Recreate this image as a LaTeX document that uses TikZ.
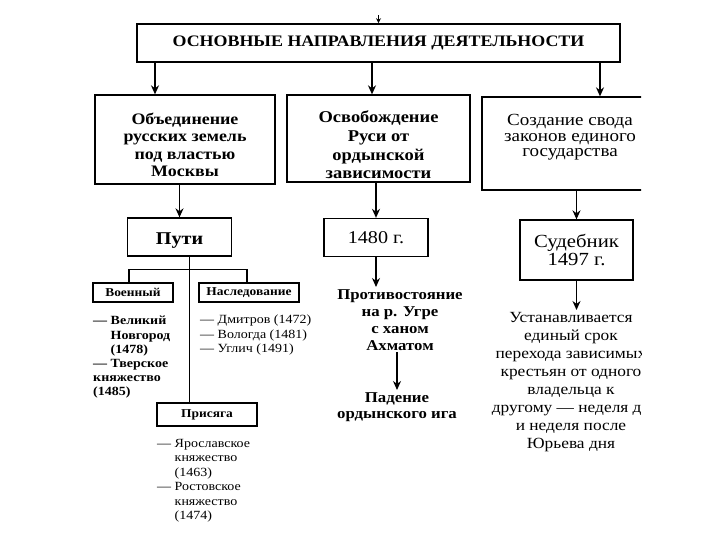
\documentclass[tikz,border=0pt]{standalone}
\usepackage{fontspec}
\setmainfont{Liberation Serif}[FakeStretch=1.12]
\usetikzlibrary{arrows.meta}

\tikzset{
  box/.style={draw, line width=1.3pt, inner sep=0pt, align=center},
  lab/.style={draw, line width=1.1pt, inner sep=0pt, font=\bfseries\fontsize{12}{14}\selectfont},
  arr/.style={line width=1.3pt, -{Stealth[length=9pt,width=8pt]}},
  line/.style={line width=1.1pt},
  list/.style={anchor=north west, align=left, inner sep=0pt, font=\fontsize{12.5}{14.5}\selectfont},
}

\begin{document}
\begin{tikzpicture}[x=1pt, y=-1pt]
    \useasboundingbox (0,0) rectangle (720,540);
    \clip (0,0) rectangle (641,540);

    % Heading
    \node[box, line width=1.6pt, minimum width=483pt, minimum height=38pt,
          font=\bfseries\fontsize{16}{18}\selectfont] (head) at (378.5,43) {ОСНОВНЫЕ НАПРАВЛЕНИЯ ДЕЯТЕЛЬНОСТИ};
    \draw[line width=0.8pt, -{Stealth[length=5pt,width=5pt]}] ([yshift=8pt]head.north) -- (head.north);

    % Three directions
    \node[box, minimum width=180pt, minimum height=89pt, font=\bfseries\fontsize{16}{17.5}\selectfont]
        (unite) at (185,139.5) {\rule{0pt}{22pt}Объединение\\русских земель\\под властью\\Москвы};
    \node[box, minimum width=183pt, minimum height=87pt, font=\bfseries\fontsize{16.5}{18.7}\selectfont]
        (free) at (378.5,138.5) {\rule{0pt}{25pt}Освобождение\\Руси от\\ордынской\\зависимости};
    \node[box, minimum width=176pt, minimum height=93pt, font=\fontsize{17}{15.5}\selectfont]
        (code) at (570,143.5) {Создание свода\\законов единого\\государства\\ \mbox{}};

    \draw[arr] ([xshift=-30pt]unite.north |- head.south) -- ([xshift=-30pt]unite.north);
    \draw[arr] ([xshift=-6.5pt]free.north |- head.south) -- ([xshift=-6.5pt]free.north);
    \draw[arr] ([xshift=30pt]code.north |- head.south) -- ([xshift=30pt]code.north);

    % Second row
    \node[box, minimum width=104pt, minimum height=38pt, font=\bfseries\fontsize{18}{20}\selectfont]
        (ways) at (179.5,237) {\rule{0pt}{19pt}Пути};
    \node[box, minimum width=104pt, minimum height=38pt, font=\fontsize{18}{19}\selectfont]
        (y1480) at (376,237.5) {1480 г.};
    \node[box, minimum width=113pt, minimum height=60pt, font=\fontsize{18.5}{18}\selectfont]
        (sudeb) at (576.5,250) {Судебник\\1497 г.};

    \draw[arr] (ways.north |- unite.south) -- (ways.north);
    \draw[arr] (y1480.north |- free.south) -- (y1480.north);
    \draw[arr] (sudeb.north |- code.south) -- (sudeb.north);

    % Ways of unification
    \node[lab, minimum width=80pt, minimum height=19pt] (war) at (133,292.5) {Военный};
    \node[lab, minimum width=100pt, minimum height=19pt] (inherit) at (249,292.5) {Наследование};
    \node[lab, minimum width=100pt, minimum height=23pt] (oath) at (207,414.5) {Присяга};

    \draw[line] ([xshift=10pt]ways.south) -- ([xshift=10pt]ways.south |- oath.north);
    \draw[line] ([xshift=-4pt]war.north) -- ++(0,-13) -| ([xshift=-2pt]inherit.north);

    \node[list, font=\bfseries\fontsize{12.5}{14.2}\selectfont] (warlist) at (93,316)
        {— Великий\\\hphantom{— }Новгород\\\hphantom{— }(1478)\\— Тверское\\княжество\\(1485)};
    \node[list] (inheritlist) at (200,315)
        {— Дмитров (1472)\\— Вологда (1481)\\— Углич (1491)};
    \node[list] (oathlist) at (157,439)
        {— Ярославское\\\hphantom{— }княжество\\\hphantom{— }(1463)\\— Ростовское\\\hphantom{— }княжество\\\hphantom{— }(1474)};

    % Liberation
    \node[align=center, inner sep=2pt, anchor=north, font=\bfseries\fontsize{15}{17}\selectfont]
        (stand) at (400,287) {Противостояние\\на р. Угре\\с ханом\\Ахматом};
    \node[align=center, inner sep=2pt, anchor=north, font=\bfseries\fontsize{15}{16}\selectfont]
        (fall) at (397,390) {Падение\\ордынского ига};

    \draw[arr] (y1480.south) -- (y1480.south |- stand.north);
    \draw[arr] (stand.south -| fall.north) -- (fall.north);

    % Code of laws
    \node[align=center, inner sep=2pt, anchor=north, font=\fontsize{15.5}{18}\selectfont]
        (rule) at (571,310) {Устанавливается\\единый срок\\перехода зависимых\\крестьян от одного\\владельца к\\другому — неделя до\\и неделя после\\Юрьева дня};

    \draw[arr] (sudeb.south) -- (sudeb.south |- rule.north);
\end{tikzpicture}
\end{document}
